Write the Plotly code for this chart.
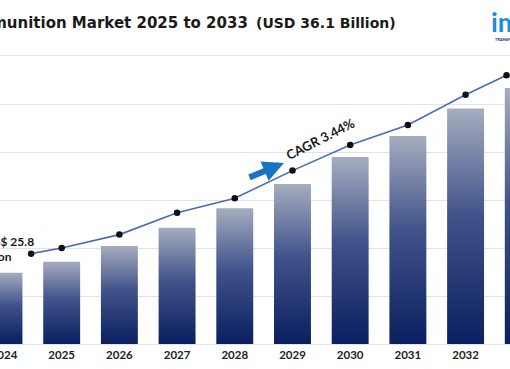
import plotly.graph_objects as go

# ---------------- data ----------------
years = [2024, 2025, 2026, 2027, 2028, 2029, 2030, 2031, 2032, 2033]
bar_values = [25.8, 26.41, 27.29, 28.31, 29.39, 30.74, 32.25, 33.42, 34.95, 36.1]
line_x = [2024.47, 2025, 2026, 2027, 2028, 2029, 2030, 2031, 2032, 2032.71]
line_values = [26.86, 27.17, 27.92, 29.14, 29.95, 31.49, 32.92, 34.03, 35.72, 36.81]
tick_labels = [str(y) for y in years]
title_main = "Global Ammunition Market 2025 to 2033"
title_value = "(USD 36.1 Billion)"
cagr_label = "CAGR 3.44%"
start_label_line1 = "US$ 25.8"
start_label_line2 = "Billion"
logo_text = "imarc"
logo_sub = "TRANSFORMING IDEAS INTO IMPACT"

# ---------------- axis / style constants ----------------
Y_BASE = 21.82
GRID_STEP = 2.677
N_GRID = 6
X_RANGE = [2023.931, 2032.770]
BAR_WIDTH = 0.64
DARK = "#0a1f60"
MID = "#41538a"
LIGHT = "#a6adbf"

fig = go.Figure()

# gradient bars (one filled polygon per bar, built from the data)
for yr, val in zip(years, bar_values):
    x0, x1 = yr - BAR_WIDTH / 2, yr + BAR_WIDTH / 2
    fig.add_trace(go.Scatter(
        x=[x0, x1, x1, x0, x0],
        y=[Y_BASE, Y_BASE, val, val, Y_BASE],
        mode="none",
        fill="toself",
        fillgradient=dict(type="vertical",
                          colorscale=[[0, DARK], [0.55, MID], [1, LIGHT]],
                          start=Y_BASE, stop=val),
        hoverinfo="skip",
        showlegend=False,
    ))

# trend line
fig.add_trace(go.Scatter(
    x=line_x, y=line_values,
    mode="lines+markers",
    line=dict(color="#4a6cb5", width=1.6),
    marker=dict(color="#111111", size=6.5),
    showlegend=False,
    hoverinfo="skip",
    cliponaxis=False,
))

ann = []
# title (cropped at left like the reference)
ann.append(dict(text="<b>" + title_main + "</b>", xref="paper", yref="paper",
                x=250 / 510, y=(344 - 23.5) / 288, xanchor="right", yanchor="middle",
                showarrow=False, font=dict(family="DejaVu Sans", size=15, color="#1a1a1a"),
                ))
ann.append(dict(text="<b>" + title_value + "</b>", xref="paper", yref="paper",
                x=254 / 510, y=(344 - 23.5) / 288, xanchor="left", yanchor="middle",
                showarrow=False, font=dict(family="DejaVu Sans", size=14, color="#1a1a1a")))
# logo
ann.append(dict(text="<b>" + logo_text + "</b>", xref="paper", yref="paper",
                x=489 / 510, y=(344 - 21) / 288, xanchor="left", yanchor="middle",
                showarrow=False, font=dict(family="Lato", size=27, color="#1b8fd8")))
ann.append(dict(text="<b>" + logo_sub + "</b>", xref="paper", yref="paper",
                x=493 / 510, y=(344 - 39) / 288, xanchor="left", yanchor="middle",
                showarrow=False, font=dict(family="Lato", size=4, color="#1d2b5c")))
# start value label
ann.append(dict(text="<b>" + start_label_line1 + "</b>", xref="paper", yref="paper",
                x=36 / 510, y=(344 - 241.5) / 288, xanchor="right", yanchor="middle",
                showarrow=False, font=dict(family="Lato", size=12, color="#1a1a1a")))
ann.append(dict(text="<b>" + start_label_line2 + "</b>", xref="paper", yref="paper",
                x=14 / 510, y=(344 - 256) / 288, xanchor="right", yanchor="middle",
                showarrow=False, font=dict(family="Lato", size=12, color="#1a1a1a")))
# CAGR label
ann.append(dict(text="<b>" + cagr_label + "</b>", xref="paper", yref="paper",
                x=320 / 510, y=(344 - 139) / 288, xanchor="center", yanchor="middle",
                textangle=-27, showarrow=False,
                font=dict(family="Lato", size=13, color="#1a1a1a")))
# blue arrow
ann.append(dict(text="", xref="paper", yref="paper",
                x=284 / 510, y=(344 - 163) / 288,
                ax=-36, ay=15, showarrow=True, arrowhead=2, arrowsize=0.7,
                arrowwidth=6, arrowcolor="#1a73c2"))

fig.update_layout(
    width=510, height=369,
    margin=dict(l=0, r=0, t=56, b=25, autoexpand=False),
    paper_bgcolor="white", plot_bgcolor="white",
    annotations=ann,
    hovermode=False,
    xaxis=dict(range=X_RANGE, tickvals=years, ticktext=tick_labels,
               showgrid=False, zeroline=False, showline=True, mirror=True,
               linecolor="#e3e3e3", linewidth=1, ticks="", layer="below traces",
               ticklabeloverflow="allow", automargin=False, fixedrange=True,
               tickfont=dict(family="Lato", size=11.5, color="#222222", weight="bold")),
    yaxis=dict(range=[Y_BASE, Y_BASE + N_GRID * GRID_STEP],
               tickvals=[Y_BASE + k * GRID_STEP for k in range(1, N_GRID)],
               showticklabels=False, showgrid=True, gridcolor="#e3e3e3", gridwidth=1,
               zeroline=False, ticks="", automargin=False, fixedrange=True),
    showlegend=False,
)

fig.write_html("out.html",
               config={"displayModeBar": False},
               post_script="document.body.style.margin='0px';document.body.style.overflow='hidden';")
